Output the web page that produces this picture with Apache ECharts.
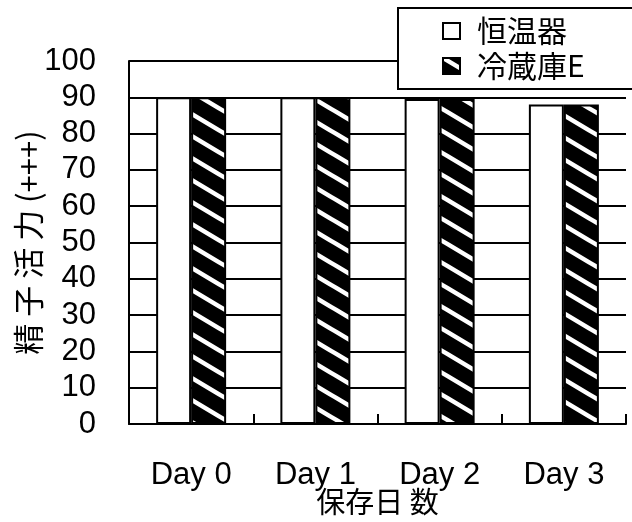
<!DOCTYPE html>
<html>
<head>
<meta charset="utf-8">
<script src="https://cdn.jsdelivr.net/npm/echarts@6/dist/echarts.min.js"></script>
<style>
  html, body { margin: 0; padding: 0; background: #fff; }
  #chart { width: 632px; height: 522px; }
</style>
</head>
<body>
<div id="chart"></div>
<script>
// Storage days on the x axis
const categories = ['Day 0', 'Day 1', 'Day 2', 'Day 3'];
// Sperm motility (+++) per storage method
const incubator = [90, 90, 89.5, 88];   // 恒温器
const fridgeE = [90, 90, 89.5, 88];     // 冷蔵庫E
const seriesNames = ['恒温器', '冷蔵庫E'];

const latin = '"Liberation Sans", Arial, sans-serif';
const cjk = '"Noto Sans CJK JP", "Noto Sans CJK SC", sans-serif';

// Black tile with white diagonal stripes running down to the right
function stripeTile() {
  const w = 37, h = 22;
  const c = document.createElement('canvas');
  c.width = w; c.height = h;
  const ctx = c.getContext('2d');
  ctx.fillStyle = '#000';
  ctx.fillRect(0, 0, w, h);
  ctx.strokeStyle = '#fff';
  ctx.lineWidth = 4.5;
  ctx.beginPath();
  for (let k = -3; k <= 3; k++) {
    ctx.moveTo(-w, -h + k * h);
    ctx.lineTo(2 * w, 2 * h + k * h);
  }
  ctx.stroke();
  return c;
}

const chart = echarts.init(document.getElementById('chart'), null, { renderer: 'canvas' });
chart.setOption({
  backgroundColor: '#fff',
  animation: false,
  grid: { left: 129, top: 61, right: 6, bottom: 98, outerBoundsMode: 'none', containLabel: false },
  legend: {
    orient: 'vertical',
    left: 398,
    top: 8,
    padding: [8, 80, 8, 44],
    itemGap: 5,
    itemWidth: 17,
    itemHeight: 16,
    backgroundColor: '#fff',
    borderColor: '#000',
    borderWidth: 2,
    borderRadius: 0,
    icon: 'rect',
    data: seriesNames,
    textStyle: {
      color: '#000',
      fontFamily: cjk,
      fontSize: 30,
      lineHeight: 30,
      padding: [0, 0, 0, 12]
    }
  },
  xAxis: {
    type: 'category',
    data: categories,
    name: '保存日 数',
    nameLocation: 'middle',
    nameGap: 63,
    nameMoveOverlap: false,
    nameTextStyle: { color: '#000', fontFamily: cjk, fontSize: 29 },
    axisLine: { lineStyle: { color: '#000', width: 2 } },
    axisTick: { show: true, inside: true, length: 10, lineStyle: { color: '#000', width: 2 } },
    axisLabel: { color: '#000', fontFamily: latin, fontSize: 31, margin: 36 },
    splitLine: { show: false }
  },
  yAxis: {
    type: 'value',
    min: 0,
    max: 100,
    interval: 10,
    name: '精 子 活 力 (+++)',
    nameLocation: 'middle',
    nameRotate: 90,
    nameGap: 85,
    nameMoveOverlap: false,
    nameTextStyle: { color: '#000', fontFamily: cjk, fontSize: 31 },
    axisLine: { show: true, lineStyle: { color: '#000', width: 2 } },
    axisTick: { show: false },
    axisLabel: { color: '#000', fontFamily: latin, fontSize: 31, margin: 33 },
    splitLine: { show: true, lineStyle: { color: '#000', width: 2 } }
  },
  series: [
    {
      name: seriesNames[0],
      type: 'bar',
      data: incubator,
      barWidth: 35,
      barGap: '0%',
      itemStyle: { color: '#fff', borderColor: '#000', borderWidth: 2 }
    },
    {
      name: seriesNames[1],
      type: 'bar',
      data: fridgeE,
      barWidth: 35,
      barGap: '0%',
      itemStyle: {
        color: { image: stripeTile(), repeat: 'repeat' },
        borderColor: '#000',
        borderWidth: 2
      }
    }
  ]
});
</script>
</body>
</html>
